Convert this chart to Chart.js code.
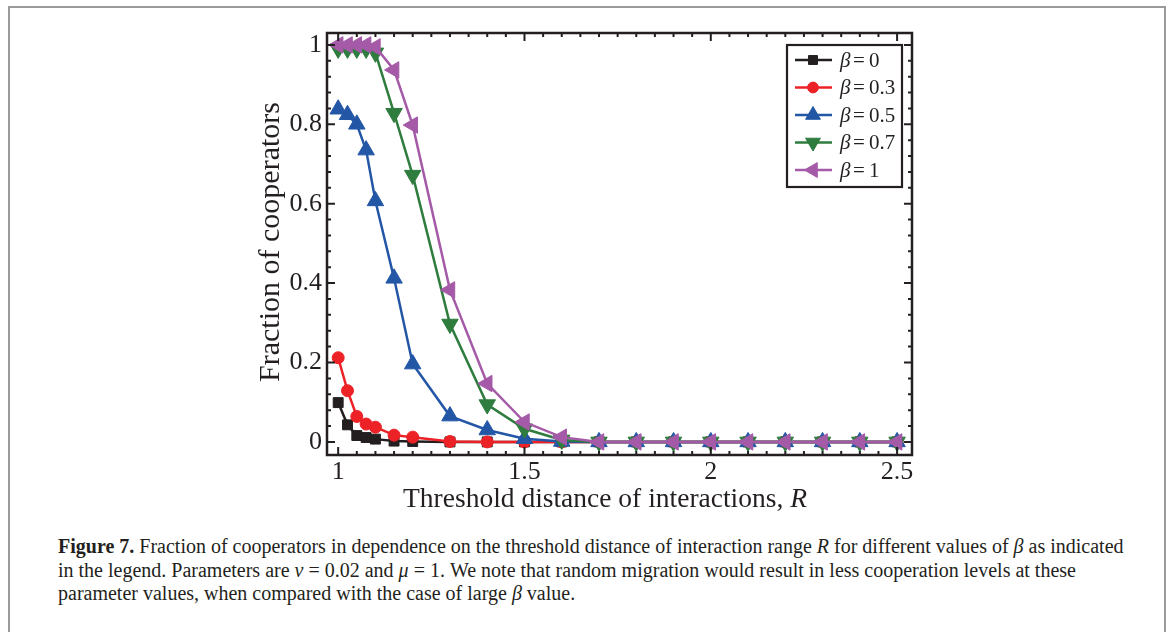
<!DOCTYPE html>
<html>
<head>
<meta charset="utf-8">
<script src="https://cdn.jsdelivr.net/npm/chart.js@4.4.1/dist/chart.umd.min.js"></script>
<style>
html, body { margin: 0; padding: 0; background: #fff; }
body { width: 1171px; height: 632px; position: relative; overflow: hidden; font-family: 'Liberation Serif', serif; }
#box { position: absolute; left: 8px; top: 6px; width: 1158px; height: 660px; border: 2px solid #9a9a9a; box-sizing: border-box; }
#wrap { position: absolute; left: 0; top: 0; width: 1171px; height: 520px; }
#cap { position: absolute; left: 58px; top: 535px; font-size: 20px; line-height: 23.5px; color: #231f20; white-space: nowrap; }
</style>
</head>
<body>
<div id="box"></div>
<div id="wrap"><canvas id="c" width="1171" height="520"></canvas></div>
<div id="cap"><b>Figure 7.</b> Fraction of cooperators in dependence on the threshold distance of interaction range <i>R</i> for different values of <i>β</i> as indicated<br>in the legend. Parameters are <i>ν</i> = 0.02 and <i>μ</i> = 1. We note that random migration would result in less cooperation levels at these<br>parameter values, when compared with the case of large <i>β</i> value.</div>
<script>
// threshold distance R (x axis)
const xR = [1, 1.025, 1.05, 1.075, 1.1, 1.15, 1.2, 1.3, 1.4, 1.5, 1.6, 1.7, 1.8, 1.9, 2.0, 2.1, 2.2, 2.3, 2.4, 2.5];

// fraction of cooperators for each beta
const beta0  = [0.099, 0.043, 0.016, 0.011, 0.007, 0.002, 0.001, 0, 0, 0, 0, 0, 0, 0, 0, 0, 0, 0, 0, 0];
const beta03 = [0.212, 0.129, 0.064, 0.045, 0.037, 0.017, 0.012, 0.001, 0, 0, 0, 0, 0, 0, 0, 0, 0, 0, 0, 0];
const beta05 = [0.838, 0.824, 0.800, 0.735, 0.607, 0.412, 0.196, 0.065, 0.030, 0.008, 0.001, 0, 0, 0, 0, 0, 0, 0, 0, 0];
const beta07 = [0.99, 0.99, 0.99, 0.99, 0.98, 0.828, 0.672, 0.297, 0.094, 0.033, 0.005, 0, 0, 0, 0, 0, 0, 0, 0, 0];
const beta1  = [1, 1, 1, 1, 0.995, 0.937, 0.798, 0.383, 0.147, 0.05, 0.012, 0, 0, 0, 0, 0, 0, 0, 0, 0];

const seriesNames = ['0', '0.3', '0.5', '0.7', '1'];

// ticks
const xTickValues = [1, 1.5, 2, 2.5];
const xTickLabels = ['1', '1.5', '2', '2.5'];
const yTickValues = [0, 0.2, 0.4, 0.6, 0.8, 1];
const yTickLabels = ['0', '0.2', '0.4', '0.6', '0.8', '1'];

const ink = '#231f20';
const serif = "'Liberation Serif', 'DejaVu Serif', serif";

function mk(name, vals, color, style, rot, r) {
    return {
        label: 'β = ' + name,
        data: xR.map((x, i) => ({ x: x, y: vals[i] })),
        borderColor: color,
        backgroundColor: color,
        borderWidth: 2.5,
        pointStyle: style,
        pointRotation: rot,
        pointRadius: r,
        pointBorderWidth: 1,
        pointBackgroundColor: color,
        pointBorderColor: color,
        tension: 0,
        fill: false
    };
}

const datasets = [
    mk(seriesNames[0], beta0,  '#231f20', 'rect', 0, 7),
    mk(seriesNames[1], beta03, '#ec2227', 'circle', 0, 6),
    mk(seriesNames[2], beta05, '#2357a6', 'triangle', 0, 9.5),
    mk(seriesNames[3], beta07, '#2f7c3f', 'triangle', 180, 9.5),
    mk(seriesNames[4], beta1,  '#a55aa8', 'triangle', 270, 9.5)
];
// later series sit on top
datasets.forEach((d, i) => { d.order = datasets.length - 1 - i; });

// frame, inward ticks, axis titles and legend
const decor = {
    id: 'decor',
    afterDraw(chart) {
        const ctx = chart.ctx;
        const a = chart.chartArea;
        const xs = chart.scales.x, ys = chart.scales.y;
        ctx.save();
        ctx.strokeStyle = ink;
        ctx.lineWidth = 2;
        // minor / major ticks on all four sides
        for (let k = 0; k <= 30; k++) {
            const v = 1 + k * 0.05;
            const px = xs.getPixelForValue(v);
            const len = (k % 10 === 0) ? 8 : 4;
            ctx.beginPath();
            ctx.moveTo(px, a.bottom); ctx.lineTo(px, a.bottom - len);
            ctx.moveTo(px, a.top); ctx.lineTo(px, a.top + len);
            ctx.stroke();
        }
        for (let k = 0; k <= 25; k++) {
            const v = k * 0.04;
            const py = ys.getPixelForValue(v);
            const len = (k % 5 === 0) ? 8 : 4;
            ctx.beginPath();
            ctx.moveTo(a.left, py); ctx.lineTo(a.left + len, py);
            ctx.moveTo(a.right, py); ctx.lineTo(a.right - len, py);
            ctx.stroke();
        }
        ctx.lineWidth = 2.5;
        ctx.strokeRect(a.left, a.top, a.right - a.left, a.bottom - a.top);

        // axis titles
        ctx.fillStyle = ink;
        const t1 = 'Threshold distance of interactions, ';
        ctx.font = '27.5px ' + serif;
        const w1 = ctx.measureText(t1).width;
        ctx.font = 'italic 27.5px ' + serif;
        const w2 = ctx.measureText('R').width;
        let sx = 605 - (w1 + w2) / 2;
        ctx.textBaseline = 'alphabetic';
        ctx.textAlign = 'left';
        ctx.font = '27.5px ' + serif;
        ctx.fillText(t1, sx, 507);
        ctx.font = 'italic 27.5px ' + serif;
        ctx.fillText('R', sx + w1, 507);

        ctx.save();
        ctx.translate(271, 242);
        ctx.rotate(-Math.PI / 2);
        ctx.textAlign = 'center';
        ctx.textBaseline = 'middle';
        ctx.font = '30px ' + serif;
        ctx.fillText('Fraction of cooperators', 0, 0);
        ctx.restore();

        // legend
        const lx = 787, ly = 45, lw = 115, lh = 142;
        ctx.fillStyle = '#fff';
        ctx.fillRect(lx, ly, lw, lh);
        ctx.lineWidth = 2.2;
        ctx.strokeStyle = ink;
        ctx.strokeRect(lx, ly, lw, lh);
        chart.data.datasets.forEach((d, i) => {
            const cy = 60 + i * 27.5;
            ctx.strokeStyle = d.borderColor;
            ctx.lineWidth = 2.5;
            ctx.beginPath();
            ctx.moveTo(795, cy); ctx.lineTo(832, cy);
            ctx.stroke();
            ctx.fillStyle = d.backgroundColor;
            ctx.lineWidth = 1;
            Chart.helpers.drawPoint(ctx, {
                pointStyle: d.pointStyle,
                rotation: d.pointRotation,
                radius: d.pointRadius * 0.9,
                borderWidth: 1
            }, 813, cy);
            ctx.fillStyle = ink;
            ctx.textAlign = 'left';
            ctx.textBaseline = 'middle';
            ctx.font = 'italic 21px ' + serif;
            ctx.fillText('β', 840, cy + 1);
            ctx.font = '21px ' + serif;
            ctx.fillText('=', 853, cy + 1);
            ctx.fillText(seriesNames[i], 869, cy + 1);
        });
        ctx.restore();
    }
};

const tickFont = { family: serif, size: 26 };

new Chart(document.getElementById('c'), {
    type: 'line',
    data: { datasets: datasets },
    options: {
        responsive: false,
        animation: false,
        layout: { padding: { left: 267, top: 33, right: 259, bottom: 35 } },
        plugins: { legend: { display: false }, tooltip: { enabled: false } },
        scales: {
            x: {
                type: 'linear',
                min: 0.97,
                max: 2.54,
                grid: { display: false, drawTicks: false },
                border: { display: false },
                afterBuildTicks: s => { s.ticks = xTickValues.map(v => ({ value: v })); },
                afterFit: s => { s.height = 30; },
                ticks: {
                    padding: 2,
                    color: ink,
                    font: tickFont,
                    maxRotation: 0,
                    autoSkip: false,
                    callback: v => xTickLabels[xTickValues.indexOf(v)]
                }
            },
            y: {
                type: 'linear',
                min: -0.033,
                max: 1.03,
                grid: { display: false, drawTicks: false },
                border: { display: false },
                afterBuildTicks: s => { s.ticks = yTickValues.map(v => ({ value: v })); },
                afterFit: s => { s.width = 60; },
                ticks: {
                    padding: 5,
                    color: ink,
                    font: tickFont,
                    autoSkip: false,
                    callback: v => yTickLabels[yTickValues.indexOf(v)]
                }
            }
        }
    },
    plugins: [decor]
});
</script>
</body>
</html>
